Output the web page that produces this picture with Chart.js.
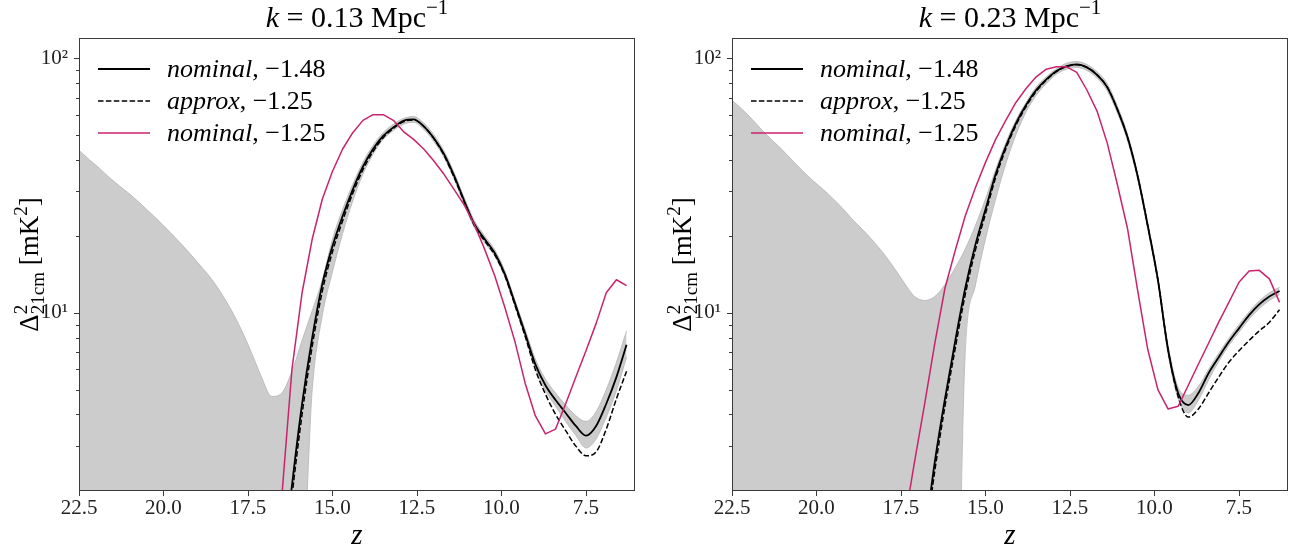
<!DOCTYPE html>
<html>
<head>
<meta charset="utf-8">
<script src="https://cdn.jsdelivr.net/npm/chart.js@4.4.1/dist/chart.umd.min.js"></script>
<style>
  html, body { margin: 0; padding: 0; background: #fff; }
  #wrap { position: relative; width: 1292px; height: 550px; overflow: hidden; }
  #wrap canvas { position: absolute; top: 0; }
</style>
</head>
<body>
<div id="wrap">
  <canvas id="chartLeft" width="646" height="550" style="left:0"></canvas>
  <canvas id="chartRight" width="646" height="550" style="left:646px"></canvas>
</div>
<script>
// Redshift grid (z decreasing, same for both panels)
const zGrid = [
  22.5, 22.2, 21.9, 21.6, 21.3, 21.0, 20.7, 20.4, 20.1, 19.8, 19.5, 19.2, 18.9, 18.6, 18.3, 18.0, 17.7, 17.4, 17.1,
  16.8, 16.5, 16.2, 15.9, 15.6, 15.3, 15.0, 14.7, 14.4, 14.1, 13.8, 13.5, 13.2, 12.9, 12.6, 12.3, 12.0, 11.7,
  11.4, 11.1, 10.8, 10.5, 10.2, 9.9, 9.6, 9.3, 9.0, 8.7, 8.4, 8.1, 7.8, 7.5, 7.2, 6.9, 6.6, 6.3,
];
const off = null; // no point at this z

// k = 0.13 Mpc^-1
const bandHiLeft = [
  43.5, 40, 37, 34, 31.5, 29.3, 27, 24.8, 22.7, 20.7, 18.8, 17.0, 15.3, 13.7, 12.0, 10.3, 8.6, 7.0, 5.6,
  4.7, 4.85, 5.9, 7.8, 10.2, 13.5, 19.5, 25.5, 32, 39, 45.5, 51, 55, 58, 59, 55.6, 50, 43.2,
  35.5, 28.3, 23, 20.1, 17.7, 14.6, 11.2, 8.6, 6.6, 5.5, 4.85, 4.35, 3.95, 3.75, 4.1, 5.0, 6.4, 8.5,
];
const bandLoLeft = [
  1, 1, 1, 1, 1, 1, 1, 1, 1, 1, 1, 1, 1, 1, 1, 1, 1, 1, 1,
  1, 1, 1, 1, 5.0, 9.8, 14.5, 20.5, 27.5, 35, 42, 48, 52, 55, 56, 52.5, 47, 40.8,
  33.5, 26.7, 21.6, 18.9, 16.7, 13.8, 10.6, 8.05, 6.05, 4.95, 4.3, 3.75, 3.3, 2.95, 3.2, 3.9, 4.95, 6.7,
];
const nominalLeft = [
  off, off, off, off, off, off, off, off, off, off, off, off, off, off, off, off, off, off, off,
  0.5, 0.9, 2.1, 4.4, 8.0, 13.0, 18.3, 24, 30.5, 37.5, 44, 49.5, 53.5, 56.8, 57.5, 54, 48.5, 42,
  34.5, 27.5, 22.3, 19.5, 17.2, 14.2, 10.9, 8.3, 6.3, 5.2, 4.55, 4.05, 3.6, 3.3, 3.6, 4.4, 5.6, 7.5,
];
const approxLeft = [
  off, off, off, off, off, off, off, off, off, off, off, off, off, off, off, off, off, off, off,
  0.5, 0.8, 1.9, 4.0, 7.4, 12.2, 17.4, 23, 29.5, 36.5, 43, 48.7, 53, 56.3, 57.2, 54, 48.3, 41.5,
  34, 27.2, 22, 19.2, 16.9, 14, 10.7, 8.1, 6.0, 4.8, 4.0, 3.45, 3.0, 2.75, 2.85, 3.5, 4.6, 5.9,
];
const altLeft = [
  off, off, off, off, off, off, off, off, off, off, off, off, off, off, off, off, off, off, off,
  0.8, 1.9, 6.0, 12, 19.5, 28, 36, 44, 51, 57, 60, 60, 57, 51.5, 48, 44, 39.5, 35,
  30.5, 26.5, 22.2, 17.8, 14, 10.5, 7.7, 5.3, 3.95, 3.35, 3.5, 4.4, 5.6, 7.1, 9.1, 12.0, 13.5, 12.8,
];

// k = 0.23 Mpc^-1
const bandHiRight = [
  68.4, 63, 57.5, 52, 47.5, 43.5, 39.5, 36, 33, 30.5, 28, 25.5, 23, 21, 19, 17, 15, 13.1, 11.6,
  11.2, 11.6, 12.9, 15.0, 17.8, 22, 28, 36.5, 46.5, 57, 67, 77, 84.5, 91, 95.5, 97, 94.5, 88.5,
  79.5, 65, 50.5, 35.5, 22.7, 13.9, 7.5, 5.1, 4.75, 5.15, 6.0, 6.95, 7.95, 9.0, 10.1, 11.15, 12.0, 12.6,
];
const bandLoRight = [
  0.3, 0.3, 0.3, 0.3, 0.3, 0.3, 0.3, 0.3, 0.3, 0.3, 0.3, 0.3, 0.3, 0.3, 0.3, 0.3, 0.3, 0.3, 0.3,
  0.3, 0.3, 0.3, 0.3, 7.0, 12.8, 19.5, 28, 38.5, 50, 61.5, 71.5, 79.5, 86.5, 90.5, 92, 89.5, 83.5,
  74.5, 61, 47.5, 33.5, 21.3, 13.1, 6.9, 4.6, 4.05, 4.55, 5.45, 6.45, 7.45, 8.4, 9.45, 10.4, 11.2, 11.8,
];
const nominalRight = [
  off, off, off, off, off, off, off, off, off, off, off, off, off, off, off, off, off, off, off,
  1.3, 2.6, 4.6, 7.7, 12.5, 18.5, 25.5, 35, 45, 55.5, 65.5, 75, 82.5, 89, 93, 94.5, 92, 86,
  77, 63, 49, 34.5, 22, 13.5, 7.2, 4.85, 4.35, 4.85, 5.8, 6.7, 7.7, 8.7, 9.8, 10.8, 11.6, 12.2,
];
const approxRight = [
  off, off, off, off, off, off, off, off, off, off, off, off, off, off, off, off, off, off, off,
  1.2, 2.4, 4.3, 7.2, 11.8, 17.6, 24.5, 34, 44, 54.5, 64.5, 74, 82, 88.5, 92.7, 94.3, 92, 86,
  77, 63, 49, 34.5, 22, 13.5, 7.2, 4.7, 3.9, 4.2, 4.85, 5.6, 6.4, 7.1, 7.8, 8.5, 9.2, 10.3,
];
const altRight = [
  off, off, off, off, off, off, off, off, off, off, off, off, off, off, off, off, off, 1.5, 2.6,
  4.4, 7.6, 12.5, 17.5, 24, 31, 39, 48, 57, 67, 76, 84.5, 90.5, 92.5, 92.5, 88, 75, 62,
  46.5, 32, 21.5, 12.3, 7.2, 5.0, 4.2, 4.3, 5.2, 6.3, 7.6, 9.2, 11.0, 13.2, 14.6, 14.7, 13.6, 11.0,
];

// Axes and labels
const xTicks = [22.5, 20.0, 17.5, 15.0, 12.5, 10.0, 7.5];
const yTicks = [3, 4, 5, 6, 7, 8, 9, 10, 20, 30, 40, 50, 60, 70, 80, 90, 100];
const yTickLabels = { 10: "10¹", 100: "10²" };
const legendNames = ["nominal", "approx", "nominal"];
const legendValues = [", −1.48", ", −1.25", ", −1.25"];

const FONT = '"Liberation Serif", "DejaVu Serif", serif';
const RED = "#c9236d";
const lineStyles = [
  { color: "#000", width: 1.8, dash: [] },
  { color: "#000", width: 1.5, dash: [5.5, 2.4] },
  { color: RED, width: 1.5, dash: [] },
];

function points(values) {
  return zGrid.map((z, i) => ({ x: z, y: values[i] })).filter((p) => p.y !== null);
}

// text with italic / superscript / subscript pieces
function richWidth(ctx, parts, size) {
  let w = 0;
  parts.forEach(function (p) {
    if (p.stack) {
      ctx.font = Math.round(size * 0.7) + "px " + FONT;
      w += Math.max(ctx.measureText(p.sup).width, ctx.measureText(p.sub).width);
    } else {
      const s = p.sup ? size * 0.7 : size;
      ctx.font = (p.it ? "italic " : "") + Math.round(s) + "px " + FONT;
      w += ctx.measureText(p.t).width;
    }
  });
  return w;
}

function drawRich(ctx, parts, x, y, size, align) {
  let cx = align === "center" ? x - richWidth(ctx, parts, size) / 2 : x;
  ctx.textAlign = "left";
  ctx.textBaseline = "alphabetic";
  parts.forEach(function (p) {
    if (p.stack) {
      ctx.font = Math.round(size * 0.7) + "px " + FONT;
      ctx.fillText(p.sup, cx, y - size * 0.42);
      ctx.fillText(p.sub, cx, y + size * 0.24);
      cx += Math.max(ctx.measureText(p.sup).width, ctx.measureText(p.sub).width);
    } else {
      const s = p.sup ? size * 0.7 : size;
      ctx.font = (p.it ? "italic " : "") + Math.round(s) + "px " + FONT;
      ctx.fillText(p.t, cx, p.sup ? y - size * 0.42 : y);
      cx += ctx.measureText(p.t).width;
    }
  });
}

function decorPlugin(panel) {
  return {
    id: "decor",
    afterDraw: function (chart) {
      const ctx = chart.ctx;
      const a = chart.chartArea;
      const sx = chart.scales.x;
      const sy = chart.scales.y;
      ctx.save();

      // frame and tick marks
      ctx.strokeStyle = "#3a3a3a";
      ctx.lineWidth = 1;
      ctx.strokeRect(a.left + 0.5, a.top + 0.5, a.right - a.left - 1, a.bottom - a.top - 1);
      ctx.beginPath();
      xTicks.forEach(function (v) {
        const px = Math.round(sx.getPixelForValue(v)) + 0.5;
        ctx.moveTo(px, a.bottom);
        ctx.lineTo(px, a.bottom + 5);
      });
      yTicks.forEach(function (v) {
        const py = Math.round(sy.getPixelForValue(v)) + 0.5;
        ctx.moveTo(a.left, py);
        ctx.lineTo(a.left - (yTickLabels[v] ? 5 : 3), py);
      });
      ctx.stroke();

      // titles
      ctx.fillStyle = "#000";
      const cx = (a.left + a.right) / 2;
      drawRich(ctx, [{ t: "k", it: true }, { t: " = " + panel.k + " Mpc" }, { t: "−1", sup: true }], cx, 27, 30, "center");
      drawRich(ctx, [{ t: "z", it: true }], cx, 544, 29, "center");
      ctx.save();
      ctx.translate(a.left - 41, (a.top + a.bottom) / 2);
      ctx.rotate(-Math.PI / 2);
      drawRich(ctx, [{ t: "Δ" }, { stack: true, sup: "2", sub: "21cm" }, { t: " [mK" }, { t: "2", sup: true }, { t: "]" }], 0, 0, 27, "center");
      ctx.restore();

      // legend
      lineStyles.forEach(function (st, i) {
        const ly = a.top + 31 + 32 * i;
        ctx.beginPath();
        ctx.strokeStyle = st.color;
        ctx.lineWidth = st.width;
        ctx.setLineDash(st.dash);
        ctx.moveTo(a.left + 19, ly);
        ctx.lineTo(a.left + 71, ly);
        ctx.stroke();
        ctx.setLineDash([]);
        ctx.fillStyle = "#000";
        drawRich(ctx, [{ t: legendNames[i], it: true }, { t: legendValues[i] }], a.left + 88, ly + 8, 26, "left");
      });
      ctx.restore();
    },
  };
}

function buildConfig(panel) {
  const tickFont = { family: FONT, size: 21 };
  return {
    type: "line",
    data: {
      datasets: [
        { data: points(panel.hi), borderColor: "#b4b4b4", borderWidth: 0.8, backgroundColor: "#cccccc", fill: "+1", order: 4, cubicInterpolationMode: "monotone" },
        { data: points(panel.lo), borderColor: "#b4b4b4", borderWidth: 0.8, fill: false, order: 3, cubicInterpolationMode: "monotone" },
        { data: points(panel.approx), borderColor: "#000", borderWidth: 1.5, borderDash: [5.5, 2.4], fill: false, order: 2, cubicInterpolationMode: "monotone" },
        { data: points(panel.nominal), borderColor: "#000", borderWidth: 1.8, fill: false, order: 1, cubicInterpolationMode: "monotone" },
        { data: points(panel.alt), borderColor: RED, borderWidth: 1.5, fill: false, order: 0, tension: 0 },
      ],
    },
    options: {
      responsive: false,
      animation: false,
      events: [],
      layout: { padding: { left: 0, right: panel.padRight, top: 38, bottom: 29 } },
      elements: { point: { radius: 0 }, line: { borderJoinStyle: "round" } },
      plugins: { legend: { display: false }, tooltip: { enabled: false }, title: { display: false } },
      scales: {
        x: {
          type: "linear",
          reverse: true,
          min: 6.05,
          max: 22.5,
          afterBuildTicks: function (s) { s.ticks = xTicks.map((v) => ({ value: v })); },
          afterFit: function (s) { s.height = 30; },
          grid: { display: false, drawTicks: true, tickLength: 5 },
          border: { display: false },
          ticks: { autoSkip: false, maxRotation: 0, padding: 0, color: "#222", font: tickFont, callback: (v) => Number(v).toFixed(1) },
        },
        y: {
          type: "logarithmic",
          min: 2,
          max: 120,
          afterBuildTicks: function (s) { s.ticks = yTicks.map((v) => ({ value: v })); },
          afterFit: function (s) { s.width = panel.axisWidth; },
          grid: { display: false, drawTicks: true, tickLength: 5 },
          border: { display: false },
          ticks: { autoSkip: false, padding: 6, color: "#222", font: tickFont, callback: (v) => yTickLabels[v] || "" },
        },
      },
    },
    plugins: [decorPlugin(panel)],
  };
}

new Chart(document.getElementById("chartLeft"), buildConfig({
  k: "0.13", hi: bandHiLeft, lo: bandLoLeft, nominal: nominalLeft, approx: approxLeft, alt: altLeft,
  axisWidth: 79, padRight: 11,
}));
new Chart(document.getElementById("chartRight"), buildConfig({
  k: "0.23", hi: bandHiRight, lo: bandLoRight, nominal: nominalRight, approx: approxRight, alt: altRight,
  axisWidth: 86, padRight: 4,
}));
</script>
</body>
</html>
